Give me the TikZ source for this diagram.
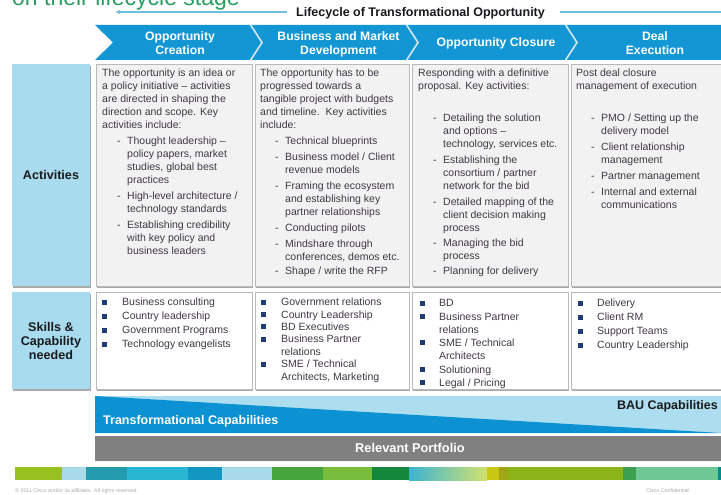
\documentclass[tikz,border=0pt]{standalone}
\usepackage{fontspec}
\setmainfont{Liberation Sans}
\usetikzlibrary{arrows.meta}

\definecolor{chevblue}{RGB}{18,150,212}
\definecolor{labelblue}{RGB}{168,219,238}
\definecolor{bandlight}{RGB}{172,222,240}
\definecolor{banddark}{RGB}{12,146,210}
\definecolor{lifeblue}{RGB}{110,190,228}
\definecolor{titlegreen}{RGB}{40,158,96}
\definecolor{bodytext}{RGB}{64,56,68}
\definecolor{headtext}{RGB}{26,26,30}
\definecolor{panelfill}{RGB}{242,242,242}
\definecolor{panelline}{RGB}{185,185,185}
\definecolor{shade}{RGB}{170,170,170}
\definecolor{navy}{RGB}{30,60,120}
\definecolor{portgrey}{RGB}{128,128,128}
\definecolor{footgrey}{RGB}{170,170,170}
\definecolor{sepcol}{RGB}{215,232,242}
% colour strip
\definecolor{s1}{RGB}{151,193,31}
\definecolor{s2}{RGB}{168,218,233}
\definecolor{s3}{RGB}{36,155,175}
\definecolor{s4}{RGB}{40,182,210}
\definecolor{s5}{RGB}{20,150,195}
\definecolor{s6}{RGB}{70,165,60}
\definecolor{s7}{RGB}{120,190,60}
\definecolor{s8}{RGB}{20,135,60}
\definecolor{s9}{RGB}{200,200,20}
\definecolor{s10}{RGB}{160,165,20}
\definecolor{s11}{RGB}{140,180,25}
\definecolor{s12}{RGB}{60,160,80}
\definecolor{s13}{RGB}{110,200,150}
\definecolor{s14}{RGB}{0,140,140}
\definecolor{gradA}{RGB}{60,180,210}
\definecolor{gradB}{RGB}{210,225,110}

\newcommand\bodystrut{\rule{0pt}{8pt}}
\newcommand\headstrut{\rule{0pt}{10pt}}
\newcommand\dashi[1]{\hspace*{15pt}\makebox[10pt][l]{-}#1}
\newcommand\cont[1]{\hspace*{25pt}#1}
\newcommand\sq[2]{\fill[bullet] (#1-2.5,#2-2.5) rectangle ++(5,5);}
\newcommand\shadedpanel[5]{%
  \fill[dropshade] (#2+1.2,#3+1.6) rectangle (#4+1.2,#5+1.6);
  \path[#1] (#2,#3) rectangle (#4,#5);}

\begin{document}
\begin{tikzpicture}[x=1pt,y=-1pt,
  body/.style={font=\fontsize{10.5}{13}\selectfont, text=bodytext, inner sep=0pt, align=left, anchor=north west},
  skill/.style={font=\fontsize{10.5}{#1}\selectfont, text=bodytext, inner sep=0pt, align=left, anchor=north west},
  hdr/.style={font=\bfseries\fontsize{12.2}{14}\selectfont, inner sep=0pt},
  panel/.style={fill=panelfill, draw=panelline, line width=0.6pt},
  skillpanel/.style={fill=white, draw=panelline, line width=0.6pt},
  labelbox/.style={fill=labelblue},
  dropshade/.style={fill=shade},
  chevsep/.style={draw=sepcol, line width=1.6pt},
  bullet/.style={fill=navy},
  lifeline/.style={draw=lifeblue, line width=1.1pt}]

\useasboundingbox (0,0) rectangle (721,495);
\clip (0,0) rectangle (721,495);
\fill[white] (0,0) rectangle (721,495);

% slide heading, cut by the top edge
\node[anchor=base west, inner sep=0pt, text=titlegreen, font=\fontsize{23}{26}\selectfont] (title) at (12,5.5) {on their lifecycle stage};

% lifecycle arrow
\node[hdr, anchor=base west, text=headtext, font=\bfseries\fontsize{12.5}{14}\selectfont] (life) at (296,16.5) {Lifecycle of Transformational Opportunity};
\coordinate (lifeL) at (287,12);
\coordinate (lifeTip) at (115,12);
\coordinate (lifeR) at (560,12);
\coordinate (lifeEnd) at (721,12);
\draw[lifeline, -{Latex[length=5pt,width=4.5pt]}] (lifeL) -- (lifeTip);
\draw[lifeline] (lifeR) -- (lifeEnd);

% chevron band
\fill[chevblue] (95,25) -- (726,25) -- (726,60) -- (95,60) -- (113,42.5) -- cycle;
\draw[chevsep] (250,24) -- (262,42.5) -- (250,61);
\draw[chevsep] (406,24) -- (418,42.5) -- (406,61);
\draw[chevsep] (565,24) -- (577,42.5) -- (565,61);

\node[hdr, anchor=north, align=center, text=white] (ph1) at (180,30) {\headstrut Opportunity\\Creation};
\node[hdr, anchor=north, align=center, text=white] (ph2) at (338.5,30) {\headstrut Business and Market\\Development};
\node[hdr, anchor=base, text=white] (ph3) at (496,47) {Opportunity Closure};
\node[hdr, anchor=north, align=center, text=white] (ph4) at (655,30) {\headstrut Deal\\Execution};

% row labels
\shadedpanel{labelbox}{12}{64}{90}{286}
\shadedpanel{labelbox}{12}{292}{90}{389}
\node[hdr, anchor=base, text=headtext, font=\bfseries\fontsize{12.6}{14}\selectfont] (actlabel) at (51,179.5) {Activities};
\node[hdr, anchor=north, align=center, text=headtext, font=\bfseries\fontsize{12.6}{14}\selectfont] (skilllabel) at (51,321) {\headstrut Skills \&\\Capability\\needed};

% activity panels
\shadedpanel{panel}{96}{64}{252}{286}
\shadedpanel{panel}{255}{64}{409}{286}
\shadedpanel{panel}{412}{64}{568}{286}
\shadedpanel{panel}{571}{64}{726}{286}

\node[body] (act1) at (102,68.5) {\bodystrut The opportunity is an idea or\\
a policy initiative – activities\\
are directed in shaping the\\
direction and scope. Key\\
activities include:\\[3pt]
\dashi{Thought leadership –}\\
\cont{policy papers, market}\\
\cont{studies, global best}\\
\cont{practices}\\[3pt]
\dashi{High-level architecture /}\\
\cont{technology standards}\\[3pt]
\dashi{Establishing credibility}\\
\cont{with key policy and}\\
\cont{business leaders}};

\node[body] (act2) at (260,68.5) {\bodystrut The opportunity has to be\\
progressed towards a\\
tangible project with budgets\\
and timeline.\ \ Key activities\\
include:\\[3pt]
\dashi{Technical blueprints}\\[3pt]
\dashi{Business model / Client}\\
\cont{revenue models}\\[3pt]
\dashi{Framing the ecosystem}\\
\cont{and establishing key}\\
\cont{partner relationships}\\[3pt]
\dashi{Conducting pilots}\\[3pt]
\dashi{Mindshare through}\\
\cont{conferences, demos etc.}\\[1pt]
\dashi{Shape / write the RFP}};

\node[body] (act3) at (418,68.5) {\bodystrut Responding with a definitive\\
proposal. Key activities:\\[19pt]
\dashi{Detailing the solution}\\
\cont{and options –}\\
\cont{technology, services etc.}\\[3pt]
\dashi{Establishing the}\\
\cont{consortium / partner}\\
\cont{network for the bid}\\[3pt]
\dashi{Detailed mapping of the}\\
\cont{client decision making}\\
\cont{process}\\[2pt]
\dashi{Managing the bid}\\
\cont{process}\\[2pt]
\dashi{Planning for delivery}};

\node[body] (act4) at (576,68.5) {\bodystrut Post deal closure\\
management of execution\\[19pt]
\dashi{PMO / Setting up the}\\
\cont{delivery model}\\[3pt]
\dashi{Client relationship}\\
\cont{management}\\[3pt]
\dashi{Partner management}\\[3pt]
\dashi{Internal and external}\\
\cont{communications}};

% skill panels
\shadedpanel{skillpanel}{96}{292}{252}{389}
\shadedpanel{skillpanel}{255}{292}{409}{389}
\shadedpanel{skillpanel}{412}{292}{568}{389}
\shadedpanel{skillpanel}{571}{292}{726}{389}

\node[skill=14] (sk1) at (122,297.5) {\bodystrut Business consulting\\Country leadership\\Government Programs\\Technology evangelists};
\foreach \k in {0,...,3} {\sq{104.5}{302+14*\k}}

\node[skill=12.4] (sk2) at (281,297.5) {\bodystrut Government relations\\Country Leadership\\BD Executives\\Business Partner\\relations\\SME / Technical\\Architects, Marketing};
\foreach \k in {0,1,2,3,5} {\sq{263.5}{302+12.4*\k}}

\node[skill=13.3] (sk3) at (439,298.5) {\bodystrut BD\\Business Partner\\relations\\SME / Technical\\Architects\\Solutioning\\Legal / Pricing};
\foreach \k in {0,1,3,5,6} {\sq{422.3}{303+13.3*\k}}

\node[skill=14] (sk4) at (597,298.5) {\bodystrut Delivery\\Client RM\\Support Teams\\Country Leadership};
\foreach \k in {0,...,3} {\sq{580.7}{303+14*\k}}

% capability wedge
\fill[bandlight] (95,396) rectangle (721,433);
\fill[banddark] (95,396) -- (721,433) -- (95,433) -- cycle;
\node[hdr, anchor=base east, text=headtext, font=\bfseries\fontsize{12.5}{14}\selectfont] (bau) at (718,409.5) {BAU Capabilities};
\node[hdr, anchor=base west, text=white, font=\bfseries\fontsize{12.5}{14}\selectfont] (transf) at (103,424.5) {Transformational Capabilities};

% portfolio bar
\fill[shade] (96,437.5) rectangle (722,462.5);
\fill[portgrey] (95,436) rectangle (721,461);
\node[hdr, anchor=base, text=white, font=\bfseries\fontsize{12.8}{14}\selectfont] (portfolio) at (410,452.5) {Relevant Portfolio};

% colour strip
\foreach \a/\b/\c in {15/62/s1, 62/86/s2, 86/127/s3, 127/188/s4, 188/222/s5, 222/272/s2,
  272/323/s6, 323/372/s7, 372/409/s8, 487/499/s9, 499/508/s10, 508/623/s11,
  623/636/s12, 636/718/s13, 718/721/s14}
  {\fill[\c] (\a,467) rectangle (\b,480);}
\shade[left color=gradA, right color=gradB] (409,467) rectangle (487,480);

% footer
\node[anchor=base west, inner sep=0pt, text=footgrey, font=\fontsize{5.3}{6}\selectfont] (copy) at (15,492) {© 2011 Cisco and/or its affiliates. All rights reserved.};
\node[anchor=base west, inner sep=0pt, text=footgrey, font=\fontsize{5.3}{6}\selectfont] (conf) at (646,492) {Cisco Confidential};

\end{tikzpicture}
\end{document}
